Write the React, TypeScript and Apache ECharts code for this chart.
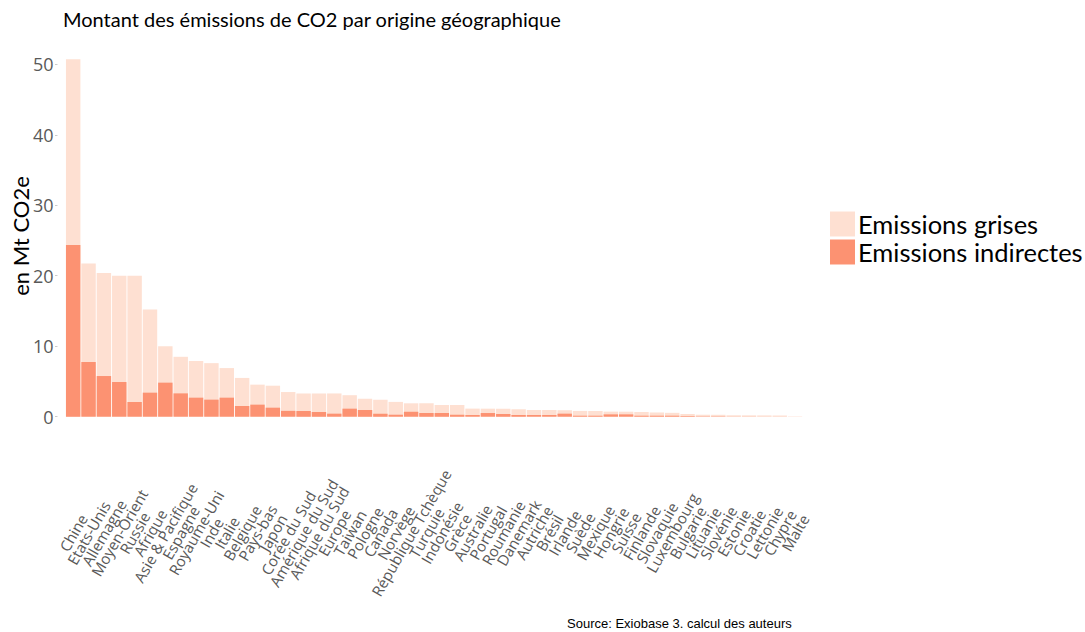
import React, { useEffect, useRef } from "react";
import * as echarts from "echarts";

const categories = [
  "Chine", "Etats-Unis", "Allemagne", "Moyen-Orient", "Russie", "Afrique",
  "Asie & Pacifique", "Espagne", "Royaume-Uni", "Inde", "Italie", "Belgique",
  "Pays-bas", "Japon", "Corée du Sud", "Amérique du Sud", "Afrique du Sud",
  "Europe", "Taiwan", "Pologne", "Canada", "Norvège", "République Tchèque",
  "Turquie", "Indonésie", "Grèce", "Australie", "Portugal", "Roumanie",
  "Danemark", "Autriche", "Brésil", "Irlande", "Suède", "Mexique", "Hongrie",
  "Suisse", "Finlande", "Slovaquie", "Luxembourg", "Bulgarie", "Lituanie",
  "Slovénie", "Estonie", "Croatie", "Lettonie", "Chypre", "Malte",
];

const emissionsGrises = [
  50.7, 21.75, 20.4, 20.0, 20.0, 15.2, 10.0, 8.5, 7.9, 7.6, 6.9, 5.5,
  4.55, 4.4, 3.5, 3.3, 3.3, 3.3, 3.05, 2.55, 2.4, 2.1, 1.9, 1.9,
  1.66, 1.66, 1.15, 1.14, 1.14, 1.05, 0.95, 0.95, 0.92, 0.82, 0.81, 0.72,
  0.71, 0.67, 0.6, 0.55, 0.38, 0.28, 0.27, 0.2, 0.19, 0.18, 0.17, 0.03,
];

const emissionsIndirectes = [
  24.35, 7.76, 5.77, 4.92, 2.09, 3.41, 4.83, 3.31, 2.7, 2.42, 2.7, 1.52,
  1.71, 1.28, 0.83, 0.82, 0.67, 0.43, 1.14, 0.95, 0.43, 0.28, 0.7, 0.52,
  0.52, 0.28, 0.24, 0.52, 0.38, 0.24, 0.24, 0.24, 0.43, 0.14, 0.14, 0.33,
  0.33, 0.14, 0.14, 0.14, 0.09, 0.05, 0.05, 0.02, 0.02, 0.01, 0.01, 0.01,
];

const yTicks = [0, 10, 20, 30, 40, 50];

const TITLE = "Montant des émissions de CO2 par origine géographique";
const Y_NAME = "en Mt CO2e";
const SOURCE = "Source: Exiobase 3. calcul des auteurs";
const SERIES_NAMES = ["Emissions grises", "Emissions indirectes"];

export default function App() {
  const ref = useRef<HTMLDivElement>(null);

  useEffect(() => {
    if (!ref.current) return;
    const chart = echarts.init(ref.current, null, { renderer: "svg" });
    const gridLeft = 65.5;
    const bandW = 15.36;
    const gridWidth = bandW * categories.length;
    const unit = 7.048;
    const zeroY = 416.7;
    const yMax = 53;
    const gridTop = zeroY - yMax * unit;

    chart.setOption({
      animation: false,
      backgroundColor: "#ffffff",
      title: {
        text: TITLE,
        left: 63,
        top: 9,
        padding: 0,
        textStyle: {
          fontFamily: "Lato",
          fontSize: 20,
          fontWeight: "normal",
          color: "#000000",
        },
      },
      legend: {
        orient: "vertical",
        left: 830,
        top: 211,
        itemWidth: 25,
        itemHeight: 25,
        itemGap: 2,
        padding: 0,
        icon: "rect",
        data: SERIES_NAMES,
        textStyle: {
          fontFamily: "Lato",
          fontSize: 25.5,
          color: "#000000",
          padding: [0, 0, 0, -2],
        },
      },
      grid: {
        left: gridLeft,
        top: gridTop,
        width: gridWidth,
        height: zeroY - gridTop,
        containLabel: false,
      },
      xAxis: {
        type: "category",
        data: categories,
        axisLine: { show: false },
        axisTick: { show: false },
        axisLabel: {
          interval: 0,
          rotate: 60,
          align: "center",
          verticalAlign: "middle",
          margin: 116,
          fontFamily: "Open Sans",
          fontSize: 15,
          color: "#595959",
        },
      },
      yAxis: {
        type: "value",
        min: 0,
        max: yMax,
        offset: 8,
        splitLine: { show: false },
        axisLine: { show: false },
        axisTick: {
          show: true,
          length: 2.5,
          customValues: yTicks,
          lineStyle: { color: "#cccccc", width: 1 },
        },
        axisLabel: {
          customValues: yTicks,
          margin: 4,
          fontFamily: "Open Sans",
          fontSize: 18,
          color: "#595959",
        },
      },
      series: [
        {
          name: SERIES_NAMES[0],
          type: "bar",
          data: emissionsGrises,
          barCategoryGap: "6%",
          barGap: "-100%",
          itemStyle: { color: "#fee0d2" },
        },
        {
          name: SERIES_NAMES[1],
          type: "bar",
          data: emissionsIndirectes,
          barCategoryGap: "6%",
          barGap: "-100%",
          itemStyle: { color: "#fc9272" },
        },
      ],
      graphic: [
        {
          type: "text",
          x: 20,
          y: 236,
          rotation: Math.PI / 2,
          style: {
            text: Y_NAME,
            fontFamily: "Lato",
            fontSize: 22,
            fill: "#000000",
            textAlign: "center",
            textVerticalAlign: "middle",
          },
        },
        {
          type: "text",
          x: 567,
          y: 623,
          style: {
            text: SOURCE,
            fontFamily: "Liberation Sans",
            fontSize: 13,
            fill: "#000000",
            textVerticalAlign: "middle",
          },
        },
      ],
    });

    return () => chart.dispose();
  }, []);

  return (
    <div
      ref={ref}
      style={{ position: "fixed", left: 0, top: 0, width: 1085, height: 632 }}
    />
  );
}
